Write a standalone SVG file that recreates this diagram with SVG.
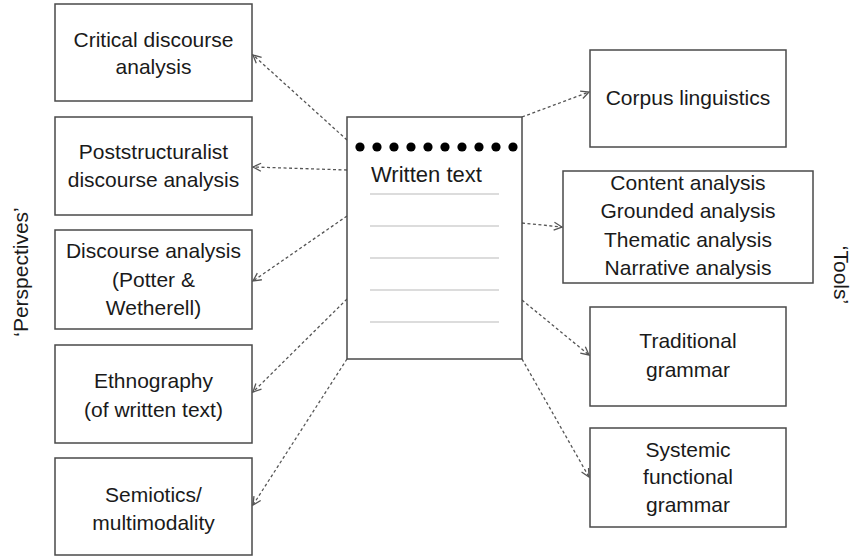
<svg xmlns="http://www.w3.org/2000/svg" width="855" height="558" viewBox="0 0 855 558">
  <style>
    .box { fill: #ffffff; stroke: #4a4a4a; stroke-width: 1.5; }
    .lbl { font-family: "Liberation Sans", Arial, sans-serif; font-size: 21px; fill: #1a1a1a; text-anchor: middle; }
    .side { font-family: "Liberation Sans", Arial, sans-serif; font-size: 21px; fill: #1a1a1a; text-anchor: middle; }
    .conn { fill: none; stroke: #555555; stroke-width: 1.3; stroke-dasharray: 3 2.5; }
    .rule { stroke: #d0d0d0; stroke-width: 1.5; }
    .dot { fill: #000000; }
  </style>
  <defs>
    <marker id="arrow" markerUnits="userSpaceOnUse" markerWidth="12" markerHeight="12" refX="9" refY="5" orient="auto">
      <path d="M1,1 L9,5 L1,9" fill="none" stroke="#555555" stroke-width="1.3"/>
    </marker>
  </defs>

  <rect width="855" height="558" fill="#ffffff"/>

  <!-- side labels -->
  <text class="side" transform="translate(28,272) rotate(-90)">‘Perspectives’</text>
  <text class="side" transform="translate(834,275) rotate(90)">‘Tools’</text>

  <!-- connectors -->
  <g id="connectors">
    <line class="conn" x1="347" y1="140" x2="253" y2="55" marker-end="url(#arrow)"/>
    <line class="conn" x1="347" y1="170" x2="253" y2="167" marker-end="url(#arrow)"/>
    <line class="conn" x1="347" y1="216" x2="253" y2="281" marker-end="url(#arrow)"/>
    <line class="conn" x1="347" y1="299" x2="253" y2="392" marker-end="url(#arrow)"/>
    <line class="conn" x1="347" y1="359" x2="253" y2="505" marker-end="url(#arrow)"/>
    <line class="conn" x1="522" y1="117" x2="589" y2="92" marker-end="url(#arrow)"/>
    <line class="conn" x1="522" y1="223" x2="562" y2="227" marker-end="url(#arrow)"/>
    <line class="conn" x1="522" y1="300" x2="589" y2="355" marker-end="url(#arrow)"/>
    <line class="conn" x1="522" y1="359" x2="589" y2="477" marker-end="url(#arrow)"/>
  </g>

  <!-- central document -->
  <g id="written-text">
    <rect class="box" x="347" y="117" width="175" height="242"/>
    <g class="dot">
      <circle cx="360" cy="147" r="4.6"/>
      <circle cx="377" cy="147" r="4.6"/>
      <circle cx="394" cy="147" r="4.6"/>
      <circle cx="411" cy="147" r="4.6"/>
      <circle cx="428" cy="147" r="4.6"/>
      <circle cx="445" cy="147" r="4.6"/>
      <circle cx="462" cy="147" r="4.6"/>
      <circle cx="479" cy="147" r="4.6"/>
      <circle cx="496" cy="147" r="4.6"/>
      <circle cx="513" cy="147" r="4.6"/>
    </g>
    <text class="lbl" x="371" y="182" style="text-anchor:start;font-size:22px">Written text</text>
    <line class="rule" x1="370" y1="194" x2="499" y2="194"/>
    <line class="rule" x1="370" y1="226" x2="499" y2="226"/>
    <line class="rule" x1="370" y1="258" x2="499" y2="258"/>
    <line class="rule" x1="370" y1="290" x2="499" y2="290"/>
    <line class="rule" x1="370" y1="322" x2="499" y2="322"/>
  </g>

  <!-- perspectives -->
  <g id="critical-discourse-analysis">
    <rect class="box" x="55" y="4" width="197" height="97"/>
    <text class="lbl" x="153.5" y="47">Critical discourse</text>
    <text class="lbl" x="153.5" y="74">analysis</text>
  </g>
  <g id="poststructuralist-discourse-analysis">
    <rect class="box" x="55" y="117" width="197" height="98"/>
    <text class="lbl" x="153.5" y="159">Poststructuralist</text>
    <text class="lbl" x="153.5" y="187">discourse analysis</text>
  </g>
  <g id="discourse-analysis">
    <rect class="box" x="55" y="230" width="197" height="99"/>
    <text class="lbl" x="153.5" y="258">Discourse analysis</text>
    <text class="lbl" x="153.5" y="287">(Potter &amp;</text>
    <text class="lbl" x="153.5" y="315">Wetherell)</text>
  </g>
  <g id="ethnography">
    <rect class="box" x="55" y="345" width="197" height="98"/>
    <text class="lbl" x="153.5" y="388">Ethnography</text>
    <text class="lbl" x="153.5" y="417">(of written text)</text>
  </g>
  <g id="semiotics">
    <rect class="box" x="55" y="458" width="197" height="97"/>
    <text class="lbl" x="153.5" y="502">Semiotics/</text>
    <text class="lbl" x="153.5" y="530">multimodality</text>
  </g>

  <!-- tools -->
  <g id="corpus-linguistics">
    <rect class="box" x="590" y="50" width="196" height="97"/>
    <text class="lbl" x="688" y="105">Corpus linguistics</text>
  </g>
  <g id="content-analysis">
    <rect class="box" x="563" y="171" width="250" height="112"/>
    <text class="lbl" x="688" y="190">Content analysis</text>
    <text class="lbl" x="688" y="218">Grounded analysis</text>
    <text class="lbl" x="688" y="247">Thematic analysis</text>
    <text class="lbl" x="688" y="275">Narrative analysis</text>
  </g>
  <g id="traditional-grammar">
    <rect class="box" x="590" y="307" width="196" height="99"/>
    <text class="lbl" x="688" y="348">Traditional</text>
    <text class="lbl" x="688" y="377">grammar</text>
  </g>
  <g id="systemic-functional-grammar">
    <rect class="box" x="590" y="428" width="196" height="99"/>
    <text class="lbl" x="688" y="457">Systemic</text>
    <text class="lbl" x="688" y="484">functional</text>
    <text class="lbl" x="688" y="512">grammar</text>
  </g>
</svg>
